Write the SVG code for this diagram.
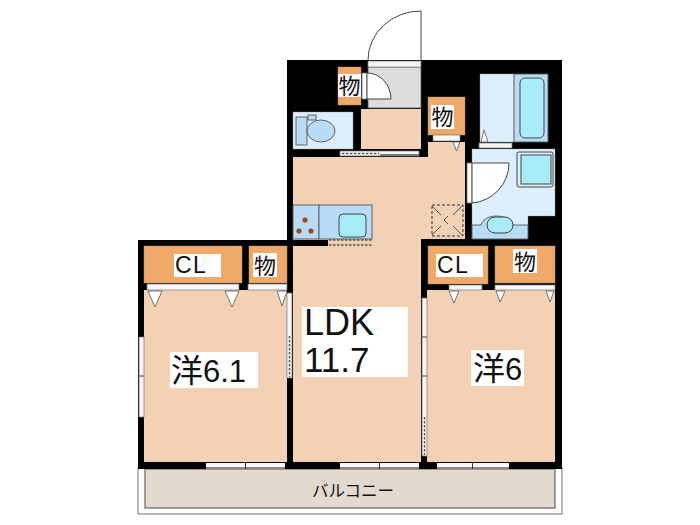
<svg xmlns="http://www.w3.org/2000/svg" width="700" height="525" viewBox="0 0 700 525">
<style>
.floor{fill:#f3d1b4}
.cl{fill:#f0a968;stroke:#a89078;stroke-width:.5}
.wet{fill:#ddeffc;stroke:#999;stroke-width:.4}
.blue{fill:#b8dbf6;stroke:#555;stroke-width:.9}
.aqua{fill:#a8ecf8;stroke:#444;stroke-width:1}
.door{fill:#f8f8f8;stroke:#777;stroke-width:.7}
.sill{fill:#f5f5f5;stroke:#777;stroke-width:.7}
.win{fill:#fafafa}
.wb{fill:#8a8a8a}
.arc{fill:#fff;stroke:#444;stroke-width:1}
.lbl{fill:#fff}
.dash{fill:none;stroke:#555;stroke-width:1.4;stroke-dasharray:2.500 1.500}
text{fill:#111;font-family:"Liberation Sans","Noto Sans CJK JP",sans-serif}
.cjk{font-family:"Noto Sans CJK JP",sans-serif}
.tri{fill:#fff;stroke:#555;stroke-width:.8}
</style>
<rect width="700" height="525" fill="#fff"/>
<g id="balcony"><rect x="138" y="468" width="424" height="46" fill="#fff" stroke="#777"/><rect x="145" y="469" width="410" height="39" fill="#e2d9cf" stroke="#666" stroke-width="1.200"/>
<text x="353" y="497" font-size="16.500" text-anchor="middle" class="cjk">バルコニー</text></g>
<g id="walls">
<path d="M287 60H562V469H138V240H287Z" fill="#000"/>
</g>
<g id="ldk">
<path class="floor" d="M293 157H428V142H465V239H421V462H293V246H328V240H293Z"/>
<rect class="lbl" x="302" y="307" width="106" height="70"/>
<text x="304" y="335" font-size="36">LDK</text>
<text x="304" y="372" font-size="35">11.7</text>
</g>
<g id="kitchen">
<rect x="293" y="205" width="26" height="34" class="blue"/>
<rect x="319" y="205" width="53" height="34" class="blue"/>
<rect x="339" y="214" width="27" height="23" rx="4" class="aqua"/>
<circle cx="305" cy="220" r="2.600" fill="#a04a10"/><circle cx="299" cy="231" r="2.600" fill="#a04a10"/><circle cx="311" cy="231" r="2.600" fill="#a04a10"/>
<path d="M329 240H372" class="dash"/>
<path d="M329 245H372" class="dash"/>
</g>
<g id="hall">
<rect x="361" y="109" width="60" height="40" class="floor"/>
<rect x="368" y="67" width="53" height="41" fill="#dcdcdc" stroke="#555" stroke-width=".8"/>
<rect x="368" y="61" width="53" height="6" class="sill"/>
<path d="M421 60V11A53 49 0 0 0 368 60" fill="#fff" stroke="#444" stroke-width="1"/>
<rect x="340" y="151" width="79" height="5" class="sill"/>
<path d="M342 153.500H379" class="dash"/>
<path d="M380 155H419" stroke="#777" stroke-width="2"/>
</g>
<g id="storage-entry">
<rect x="338" y="67" width="23" height="38" class="cl"/>
<rect class="lbl" x="338" y="74" width="23" height="23"/>
<text x="349.500" y="94" font-size="22" text-anchor="middle" class="cjk">物</text>
<rect x="362" y="73" width="5" height="26" class="door"/>
<path class="arc" d="M367 73A24 26 0 0 1 391 99H367Z"/>
</g>
<g id="toilet">
<rect x="293" y="112" width="60" height="37" class="wet"/>
<rect x="296" y="117" width="11" height="28" class="blue"/>
<rect x="308" y="115" width="8" height="5" class="blue"/>
<ellipse cx="321" cy="131" rx="14" ry="11" class="blue"/>
</g>
<g id="storage-hall">
<rect x="428" y="97" width="37" height="38" class="cl"/>
<rect class="lbl" x="431" y="105" width="23" height="24"/>
<text x="442.500" y="125" font-size="22" text-anchor="middle" class="cjk">物</text>
<rect x="433" y="135" width="27" height="6" class="door"/>
<path class="tri" d="M453 142H460L456.500 151Z"/>
</g>
<g id="bath">
<rect x="480" y="74" width="34" height="68" class="wet"/>
<rect x="514" y="74" width="34" height="68" class="blue" stroke-width=".5"/>
<rect x="520" y="78" width="24" height="60" rx="5" class="aqua"/>
<rect x="479" y="143" width="33" height="5" class="sill"/>
<path class="tri" d="M481 142L484 130L488 142Z"/>
</g>
<g id="wash">
<path class="wet" d="M472 149H555V216H528V239H472Z"/>
<rect x="467" y="163" width="5" height="40" class="door"/>
<path class="arc" d="M472 163H509A40 40 0 0 1 472 203Z"/>
<rect x="517" y="152" width="36" height="35" rx="2" fill="#ddeffc" stroke="#444"/>
<rect x="521" y="155" width="30" height="29" fill="#a8ecf8" stroke="#444"/>
<path d="M472 239V225H481C484 213 509 213 512 225H528V239Z" fill="#b8dbf6" stroke="#444" stroke-width=".8"/>
<rect x="487" y="217" width="26" height="16" rx="8" class="aqua"/>
<rect x="432" y="205" width="31" height="31" fill="none" stroke="#333" stroke-dasharray="3 2"/>
<path d="M432 206L441 215M462 206L453 215M432 235L441 226M462 235L453 226M444 220L448 216M444 220L448 224" stroke="#333" fill="none" stroke-width=".8"/>
</g>
<g id="room-west">
<rect x="144" y="290" width="143" height="172" class="floor"/>
<rect x="144" y="246" width="98" height="37" class="cl"/>
<rect x="249" y="246" width="38" height="37" class="cl"/>
<rect x="147" y="284" width="92" height="6" class="door"/>
<rect x="248" y="284" width="39" height="6" class="door"/>
<path class="tri" d="M148 291H162L155 307Z M225 291H239L232 307Z M277 291H287L282 306Z"/>
<rect class="lbl" x="174" y="254" width="47" height="23"/>
<text x="175" y="273" font-size="23" letter-spacing="1.500">CL</text>
<rect class="lbl" x="253" y="253" width="24" height="24"/>
<text x="265" y="274" font-size="22" text-anchor="middle" class="cjk">物</text>
<rect class="lbl" x="170" y="352" width="88" height="36"/>
<text x="171" y="382" font-size="32" class="cjk">洋<tspan font-family="Liberation Sans" font-size="31">6.1</tspan></text>
<rect x="139" y="337" width="5" height="80" class="sill"/>
<path d="M138 376H144" stroke="#444"/>
<rect x="287" y="293" width="5" height="85" class="sill"/>
<path d="M289.500 336V377" class="dash" stroke-width="1"/>
<rect x="206" y="463" width="39" height="6" class="win"/><rect x="246" y="463" width="39" height="6" class="win"/>
<path d="M206 468H285" stroke="#888" stroke-width="2"/><path d="M245.500 463V469" stroke="#333"/>
</g>
<g id="room-east">
<rect x="427" y="290" width="128" height="172" class="floor"/>
<rect x="428" y="246" width="60" height="38" class="cl"/>
<rect x="495" y="246" width="60" height="37" class="cl"/>
<rect x="449" y="285" width="33" height="5" class="door"/>
<rect x="495" y="285" width="60" height="5" class="door"/>
<path class="tri" d="M449 291H459L454 303Z M496 291H505L500 302Z M546 291H554L550 302Z"/>
<rect class="lbl" x="436" y="254" width="47" height="23"/>
<text x="437" y="273" font-size="23" letter-spacing="1.500">CL</text>
<rect class="lbl" x="513" y="249" width="24" height="24"/>
<text x="525" y="270" font-size="22" text-anchor="middle" class="cjk">物</text>
<rect class="lbl" x="471" y="350" width="53" height="36"/>
<text x="473" y="380" font-size="32" class="cjk">洋<tspan font-family="Liberation Sans" font-size="31">6</tspan></text>
<rect x="422" y="298" width="5" height="158" class="sill"/>
<path d="M421 337H427M421 376H427" stroke="#444"/>
<path d="M424.500 417V455" class="dash" stroke-width="1"/>
<rect x="437" y="463" width="35" height="6" class="win"/><rect x="473" y="463" width="36" height="6" class="win"/>
<path d="M437 468H509" stroke="#888" stroke-width="2"/><path d="M472.500 463V469" stroke="#333"/>
<rect x="340" y="463" width="39" height="6" class="win"/><rect x="380" y="463" width="39" height="6" class="win"/>
<path d="M340 468H419" stroke="#888" stroke-width="2"/><path d="M379.500 463V469" stroke="#333"/>
</g>
</svg>
